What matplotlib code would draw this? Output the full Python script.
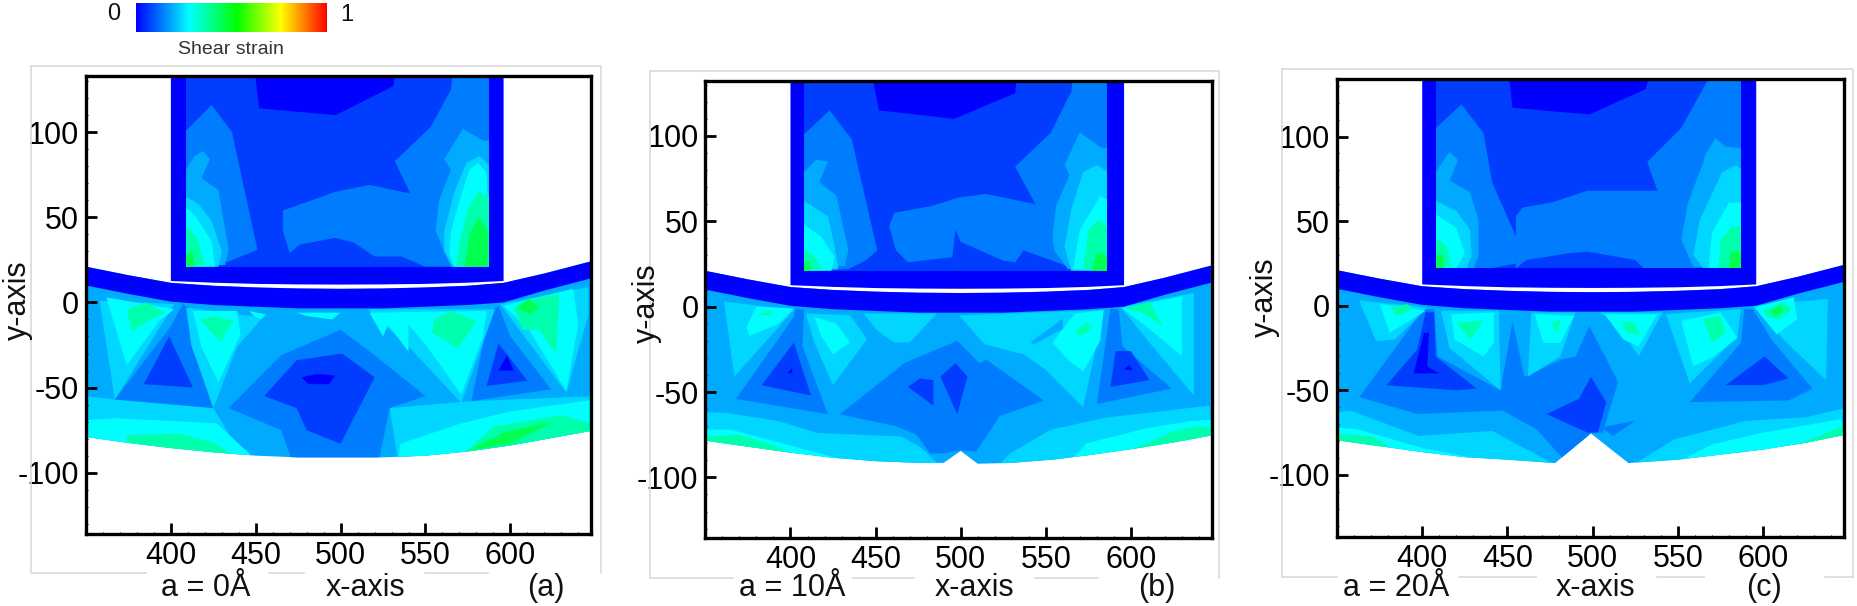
import matplotlib
matplotlib.use('Agg')
import matplotlib.pyplot as plt
from matplotlib.colors import LinearSegmentedColormap, Normalize
from matplotlib.cm import ScalarMappable
from matplotlib.lines import Line2D

plt.rcParams['font.family'] = ['Liberation Sans', 'DejaVu Sans']
plt.rcParams['axes.unicode_minus'] = False

W, H = 1857, 606

# strain value of each contour level
L0, L1, L2, L3, L4, L5, L6, L7 = 0.0, 0.07, 0.14, 0.19, 0.235, 0.28, 0.36, 0.45

cbar_pos = [0.0, 0.28, 0.53, 0.76, 1.0]
cbar_cols = ['#0000ff', '#00ffff', '#00ff00', '#ffff00', '#ff0000']

x_ticks = [400, 450, 500, 550, 600]
y_ticks = [-100, -50, 0, 50, 100]

# contact band, shared by the three panels
band_x = [350, 375, 400, 425, 450, 475, 500, 525, 550, 575, 596, 620, 647]
band_top = [21, 16, 11.5, 9.8, 8.8, 8.2, 8, 8.2, 8.8, 9.8, 11.5, 17, 24]
band_bot = [10, 5, 0.5, -1.5, -2.5, -3.5, -3.5, -3.5, -2.5, -1.5, 0, 7, 14]
punch_bot = [12.6, 11.6, 10.9, 10.6, 10.5, 10.6, 10.9, 11.6, 12.6]
punch_bot_x = [400, 425, 450, 475, 500, 525, 550, 575, 596]

# lower outline of the substrate
a_arc = [(350, -79), (375, -82.5), (400, -85.5), (425, -88), (450, -90), (475, -91), (500, -91),
         (525, -91), (550, -90), (575, -87.5), (600, -84), (625, -79.5), (647, -75.5)]
b_arc = [(350, -78.5), (375, -82), (400, -85.5), (425, -88.5), (450, -90.5), (475, -91.5), (490, -91.5),
         (500, -84.5), (510, -92), (530, -91.5), (555, -89.5), (575, -87), (600, -83.5), (625, -79.5), (647, -75.5)]
c_arc = [(350, -79.5), (375, -83), (400, -86.5), (425, -89.5), (450, -91), (478, -93), (499, -75.5),
         (521, -93), (550, -91), (575, -88), (600, -85), (625, -81), (647, -76.5)]

# punch contours, painted in this order
a_punch = [
    (L2, [(409, 101), (424, 116), (436, 100), (451, 31), (434, 24), (409, 21)]),
    (L2, [(466, 54), (483, 60), (497, 65), (517, 69), (541, 64), (532, 83), (553, 103), (565, 125), (566, 135),
          (588, 135), (588, 21), (550, 21), (536, 27), (520, 27), (508, 35), (497, 38), (476, 34), (470, 29), (466, 42)]),
    (L0, [(449.5, 135), (452, 114), (497, 110), (531, 127), (532, 135)]),
    (L3, [(409, 78), (414, 86), (419, 89), (423, 84), (418, 73), (428, 66), (434, 31), (432, 22), (409, 21)]),
    (L4, [(409, 62), (416, 58), (424, 48), (430, 30), (428, 21), (409, 21)]),
    (L5, [(409, 56), (415, 50), (424, 36), (426, 21), (409, 21)]),
    (L6, [(409, 45), (416, 37), (420, 22), (409, 21)]),
    (L7, [(409, 28), (413, 30), (414, 21), (409, 21)]),
    (L3, [(556, 42), (558, 60), (565, 78), (561, 84), (572, 102), (584, 95), (588, 95), (588, 21), (565, 21), (561, 30)]),
    (L4, [(561, 30), (561, 42), (567, 65), (574, 82), (582, 86), (588, 80), (588, 21), (566, 21)]),
    (L5, [(564, 28), (565, 42), (572, 66), (576, 78), (581, 82), (586, 76), (588, 21), (567, 21)]),
    (L6, [(568, 21), (570, 35), (575, 55), (581, 65), (588, 62), (588, 21)]),
    (L7, [(573, 21), (576, 40), (581, 50), (587, 42), (587, 21)]),
]
b_punch = [
    (L2, [(408, 101), (423, 115), (436, 98), (451, 33), (444, 27), (434, 22), (408, 21)]),
    (L2, [(458, 47), (461, 55), (483, 59), (499, 64), (515, 66), (544, 60), (532, 82), (553, 102), (565, 126), (566, 135),
          (588, 135), (588, 21), (562, 24), (537, 33), (532, 26), (525, 27), (500, 38), (497, 45), (495, 29), (469, 26), (462, 33)]),
    (L0, [(448, 135), (452, 115), (496, 110), (532, 125), (533, 135)]),
    (L3, [(408, 79), (415, 86), (422, 85), (417, 73), (427, 65), (434, 33), (432, 24), (408, 21)]),
    (L4, [(408, 62), (422, 53), (426, 35), (428, 22), (408, 21)]),
    (L5, [(408, 48), (418, 41), (426, 29), (424, 21), (408, 21)]),
    (L6, [(408, 33), (414, 30), (418, 22), (408, 21)]),
    (L7, [(408, 26), (411, 26), (412, 21), (408, 21)]),
    (L3, [(554, 41), (556, 59), (564, 77), (561, 83), (570, 102), (583, 93), (588, 93), (588, 21), (563, 22), (555, 33)]),
    (L4, [(561, 35), (565, 57), (572, 79), (580, 83), (588, 78), (588, 21), (565, 21)]),
    (L5, [(566, 22), (570, 45), (578, 58), (582, 65), (587, 62), (588, 21)]),
    (L6, [(572, 22), (575, 45), (581, 51), (587, 46), (588, 21)]),
    (L7, [(577, 21), (580, 32), (586, 30), (587, 21)]),
]
c_punch = [
    (L2, [(408, 105), (423, 119), (436, 102), (441, 73), (455, 41), (455, 25), (440, 22), (408, 22)]),
    (L2, [(455, 53), (459, 58), (476, 61), (497, 68), (538, 68), (532, 85), (552, 105), (568, 134), (588, 134),
          (588, 22), (530, 22), (525, 27), (497, 32), (486, 31), (461, 27), (455, 22)]),
    (L0, [(451, 135), (453, 117), (498, 113), (531, 128), (533, 135)]),
    (L3, [(408, 79), (416, 91), (421, 86), (416, 74), (428, 67), (433, 51), (433, 29), (430, 22), (408, 22)]),
    (L4, [(408, 62), (420, 56), (428, 45), (429, 30), (426, 22), (408, 22)]),
    (L5, [(408, 54), (420, 46), (425, 31), (420, 22), (408, 22)]),
    (L6, [(408, 40), (414, 36), (417, 24), (408, 22)]),
    (L7, [(408, 30), (412, 30), (413, 22), (408, 22)]),
    (L3, [(552, 39), (556, 61), (565, 85), (566, 89), (572, 99), (578, 94), (588, 93), (588, 22), (559, 23)]),
    (L4, [(559, 30), (563, 51), (576, 79), (584, 83), (588, 80), (588, 22), (565, 22)]),
    (L5, [(568, 22), (570, 43), (580, 61), (588, 61), (588, 22)]),
    (L6, [(574, 22), (575, 39), (582, 47), (588, 47), (588, 22)]),
    (L7, [(580, 22), (581, 32), (587, 32), (587, 22)]),
]

# substrate contours, painted over a level 3 base
a_lower = [
    (L4, [(350, -55), (367, -57), (425, -62), (445, -95), (534, -95), (529, -62), (577, -58), (650, -55), (650, -95), (350, -95)]),
    (L5, [(350, -69), (369, -68), (427, -71), (453, -95), (350, -95)]),
    (L5, [(534, -95), (535, -83), (571, -71), (600, -64), (650, -57), (650, -95)]),
    (L6, [(374, -78), (405, -77), (425, -82), (440, -92), (400, -90), (374, -83)]),
    (L6, [(571, -90), (590, -73), (630, -66), (650, -72), (650, -95), (600, -95)]),
    (L7, [(575, -87), (597, -76), (625, -70), (600, -83)]),
    (L2, [(434, -62), (465, -31), (500, -16), (520, -31), (550, -55), (529, -62), (522, -95), (472, -95), (465, -75)]),
    (L1, [(455, -55), (474, -34), (501, -30), (520, -44), (500, -83), (480, -75), (474, -62)]),
    (L0, [(477, -44), (486, -42), (497, -43), (493, -48), (481, -48)]),
    (L2, [(367, -57), (400, -14), (407, -1), (414, -5), (412, -22), (425, -62)]),
    (L1, [(384, -48), (399, -20), (413, -50)]),
    (L2, [(577, -58), (588, -5), (593, -2), (600, -20), (624, -51)]),
    (L1, [(586, -49), (593, -24), (610, -46)]),
    (L0, [(593, -40), (598, -31), (602, -40)]),
    (L4, [(358, 1), (402, -1), (367, -57)]),
    (L5, [(362, 3), (402, -4), (393, -11), (374, -37)]),
    (L6, [(374, -4), (385, 0), (397, -6), (388, -10), (377, -17)]),
    (L4, [(409, -3), (454, -9), (439, -26), (425, -62), (412, -25)]),
    (L5, [(413, -5), (439, -5), (441, -19), (428, -47), (418, -26)]),
    (L6, [(417, -10), (426, -8), (437, -11), (429, -23)]),
    (L5, [(446, -5), (456, -7), (453, -10), (449, -8)]),
    (L5, [(474, -6), (500, -6), (495, -10), (488, -9), (480, -8)]),
    (L4, [(516, -4), (591, -4), (571, -59), (543, -29)]),
    (L5, [(517, -6), (586, -5), (584, -20), (571, -54), (551, -26), (540, -13), (540, -29), (528, -13), (525, -20)]),
    (L6, [(555, -10), (565, -5), (580, -11), (569, -27), (554, -18)]),
    (L4, [(594, -1), (646, 9), (646, -7), (633, -53)]),
    (L5, [(596, -2), (637, 8), (640, -13), (633, -52), (611, -16)]),
    (L6, [(602, -3), (611, 2), (629, 5), (627, -30), (617, -16), (607, -16)]),
    (L7, [(604, -3), (611, 2), (617, -3), (611, -7)]),
]
b_lower = [
    (L4, [(350, -62), (361, -62), (393, -67), (416, -74), (465, -76), (476, -82), (490, -95), (350, -95)]),
    (L5, [(350, -72), (365, -72), (395, -80), (440, -92), (350, -95)]),
    (L6, [(350, -76), (370, -75), (395, -83), (400, -95), (350, -95)]),
    (L4, [(520, -95), (529, -86), (553, -72), (585, -65), (646, -58), (650, -95)]),
    (L5, [(560, -95), (574, -80), (610, -71), (635, -67), (650, -66), (650, -95)]),
    (L6, [(600, -84), (625, -73), (640, -70), (650, -72), (650, -95)]),
    (L2, [(429, -63), (467, -33), (498, -20), (511, -33), (515, -31), (549, -55), (523, -64), (509, -85), (500, -84),
          (490, -86), (482, -86), (474, -75), (462, -70)]),
    (L1, [(469, -47), (476, -42), (484, -43), (484, -58)]),
    (L1, [(488, -41), (497, -33), (504, -41), (498, -63)]),
    (L4, [(443, -4), (486, -4), (470, -21), (461, -21), (451, -14)]),
    (L4, [(499, -5), (584, -2), (572, -59), (550, -37), (537, -28), (514, -22)]),
    (L3, [(541, -21), (560, -7), (560, -13), (543, -22)]),
    (L5, [(554, -21), (567, -4), (584, -2), (582, -20), (572, -38), (563, -31)]),
    (L6, [(567, -15), (574, -9), (578, -12), (571, -17)]),
    (L4, [(361, 3), (402, -2), (367, -41)]),
    (L5, [(374, -12), (380, 0), (402, -1), (393, -10), (376, -17)]),
    (L6, [(380, -5), (388, -2), (390, -5)]),
    (L2, [(368, -54), (402, -6), (403, -1), (408, -2), (407, -23), (422, -63)]),
    (L1, [(383, -46), (402, -21), (412, -52)]),
    (L0, [(398, -39), (401, -36), (401, -39)]),
    (L4, [(409, -4), (435, -5), (445, -19), (425, -46), (414, -21)]),
    (L5, [(414, -6), (427, -10), (435, -21), (425, -28), (418, -17)]),
    (L2, [(580, -57), (588, -1), (593, -2), (595, -23), (624, -48)]),
    (L1, [(588, -47), (591, -26), (600, -26), (611, -43)]),
    (L0, [(596, -37), (599, -34), (601, -37)]),
    (L4, [(594, 0), (637, 8), (637, -52), (610, -20)]),
    (L5, [(595, -1), (630, 6), (630, -29), (611, -13)]),
    (L6, [(597, -1), (611, 3), (619, -12), (608, -4)]),
]
c_lower = [
    (L4, [(350, -63), (358, -62), (398, -77), (441, -74), (480, -95), (350, -95)]),
    (L5, [(350, -72), (362, -73), (400, -84), (440, -92), (350, -95)]),
    (L6, [(350, -76), (370, -77), (380, -83), (350, -95)]),
    (L4, [(522, -95), (548, -79), (590, -68), (625, -66), (650, -60), (650, -95)]),
    (L5, [(545, -95), (570, -82), (600, -75), (646, -67), (650, -95)]),
    (L6, [(620, -82), (640, -74), (650, -70), (650, -95)]),
    (L2, [(363, -54), (397, -64), (447, -62), (467, -73), (485, -93), (499, -75), (506, -75), (515, -45), (498, -12),
          (490, -30), (481, -32), (460, -42), (453, -9), (446, -50), (409, -30), (407, -2), (401, -2)]),
    (L2, [(505, -72), (525, -68), (512, -77)]),
    (L1, [(379, -47), (397, -26), (402, -4), (407, -4), (408, -30), (432, -49), (420, -50)]),
    (L0, [(395, -40), (401, -16), (404, -16), (403, -36), (410, -40)]),
    (L1, [(473, -64), (492, -55), (499, -42), (508, -57), (503, -75), (497, -75)]),
    (L2, [(557, -57), (587, -22), (589, -2), (594, -2), (605, -20), (629, -49), (615, -56)]),
    (L1, [(578, -47), (601, -30), (615, -43), (600, -47)]),
    (L4, [(363, 3), (403, -1), (384, -20), (373, -21)]),
    (L5, [(375, 1), (402, -3), (381, -16)]),
    (L6, [(381, -1), (391, 1), (395, -2), (385, -6)]),
    (L4, [(411, -3), (445, -3), (446, -50), (416, -25)]),
    (L5, [(417, -5), (442, -4), (442, -22), (436, -30), (419, -20)]),
    (L6, [(420, -10), (436, -9), (428, -20)]),
    (L4, [(464, -4), (490, -4), (481, -30), (462, -42)]),
    (L5, [(466, -5), (489, -6), (481, -22), (471, -22)]),
    (L6, [(476, -10), (482, -8), (478, -16)]),
    (L4, [(504, -4), (541, -4), (527, -30), (515, -11)]),
    (L5, [(507, -5), (538, -5), (527, -24), (518, -20)]),
    (L6, [(517, -9), (524, -10), (528, -17), (520, -16)]),
    (L4, [(543, -5), (587, -2), (585, -18), (557, -46)]),
    (L5, [(552, -9), (575, -4), (585, -19), (571, -30), (559, -36)]),
    (L6, [(565, -8), (575, -6), (578, -16), (570, -22)]),
    (L4, [(594, 0), (638, 4), (637, -44), (613, -21)]),
    (L5, [(595, -1), (618, 5), (620, -8), (608, -17), (604, -12)]),
    (L6, [(600, -3), (612, 2), (617, -2), (610, -8), (603, -7)]),
    (L7, [(604, -3), (610, 0), (612, -3), (607, -6)]),
]

cmap = LinearSegmentedColormap.from_list('strain', list(zip(cbar_pos, cbar_cols)))
norm = Normalize(0, 1)


def px_rect(left, right, top, bottom):
    return [left / W, 1 - bottom / H, (right - left) / W, (bottom - top) / H]


def frame_line(fig, xs, ys):
    fig.add_artist(Line2D([x / W for x in xs], [1 - y / H for y in ys], transform=fig.transFigure,
                          color='#d9d9d9', lw=1.2))


def fill_poly(ax, pts, level, clip=None):
    xs = [p[0] for p in pts]
    ys = [p[1] for p in pts]
    poly = ax.fill(xs, ys, color=cmap(norm(level)), lw=0)[0]
    if clip is not None:
        poly.set_clip_path(clip)
    return poly


def draw_panel(fig, rect, xlim, ylim, inner, arc, punch, lower):
    ax = fig.add_axes(px_rect(*rect))
    # substrate
    top = list(zip(band_x, band_top))
    base = fill_poly(ax, top + arc[::-1], L3)
    for level, pts in lower:
        fill_poly(ax, pts, level, clip=base)
    fill_poly(ax, top + list(zip(band_x, band_bot))[::-1], L0)
    # punch
    fill_poly(ax, [(400, 140), (596, 140)] + list(zip(punch_bot_x, punch_bot))[::-1], L0)
    body = fill_poly(ax, [(inner[0], 140), (inner[1], 140), (inner[1], inner[2]), (inner[0], inner[2])], L1)
    for level, pts in punch:
        fill_poly(ax, pts, level, clip=body)

    ax.set_xlim(*xlim)
    ax.set_ylim(*ylim)
    ax.set_xticks(x_ticks)
    ax.set_yticks(y_ticks)
    ax.set_xticks(range(360, 647, 10), minor=True)
    ax.set_yticks(range(-130, 131, 10), minor=True)
    ax.tick_params(which='major', direction='in', length=8, width=2, labelsize=22, pad=5)
    ax.tick_params(which='minor', direction='in', length=1.5, width=0.8)
    for s in ax.spines.values():
        s.set_linewidth(2.4)
    ax.set_axisbelow(False)
    return ax


fig = plt.figure(figsize=(W / 100, H / 100), dpi=100)

# grey frames left around each panel
frame_line(fig, [31, 601, 601], [66, 66, 573])
frame_line(fig, [31, 31, 146], [66, 573, 573])
frame_line(fig, [269, 304], [573, 573])
frame_line(fig, [425, 488], [573, 573])
frame_line(fig, [650, 1219, 1219], [71, 71, 578])
frame_line(fig, [650, 650, 733], [71, 578, 578])
frame_line(fig, [853, 914], [578, 578])
frame_line(fig, [1035, 1098], [578, 578])
frame_line(fig, [1282, 1853, 1853], [69, 69, 577])
frame_line(fig, [1282, 1282, 1337], [69, 577, 577])
frame_line(fig, [1459, 1536], [577, 577])
frame_line(fig, [1657, 1704], [577, 577])
frame_line(fig, [1825, 1853], [577, 577])

draw_panel(fig, (86, 591, 76, 534), (350, 647.5), (-136, 133), (409, 587.5, 21), a_arc, a_punch, a_lower)
draw_panel(fig, (705.4, 1211.7, 81, 538), (350, 647.5), (-135.5, 132.2), (408, 586, 21), b_arc, b_punch, b_lower)
draw_panel(fig, (1337, 1844, 79, 537), (350, 647.5), (-136.7, 134), (408, 587, 22), c_arc, c_punch, c_lower)

# colorbar
cax = fig.add_axes(px_rect(136, 327, 3, 32))
cb = fig.colorbar(ScalarMappable(norm=norm, cmap=cmap), cax=cax, orientation='horizontal')
cb.set_ticks([])
cb.outline.set_visible(False)


def label(px, py, text, size=22, rot=0, color='#111111'):
    fig.text(px / W, 1 - py / H, text, fontsize=size, rotation=rot, ha='center', va='center', color=color)


label(114, 14, '0', 17)
label(347, 15, '1', 17)
label(231, 50, 'Shear strain', 14, color='#333333')

label(18, 300, 'y-axis', 22, 90)
label(647, 303, 'y-axis', 22, 90)
label(1265, 297, 'y-axis', 22, 90)

label(206, 588, 'a = 0Å')
label(365, 588, 'x-axis')
label(546, 588, '(a)')
label(792, 588, 'a = 10Å')
label(974, 588, 'x-axis')
label(1157, 588, '(b)')
label(1396, 588, 'a = 20Å')
label(1595, 588, 'x-axis')
label(1764, 588, '(c)')

fig.savefig('out.png', dpi=100)
